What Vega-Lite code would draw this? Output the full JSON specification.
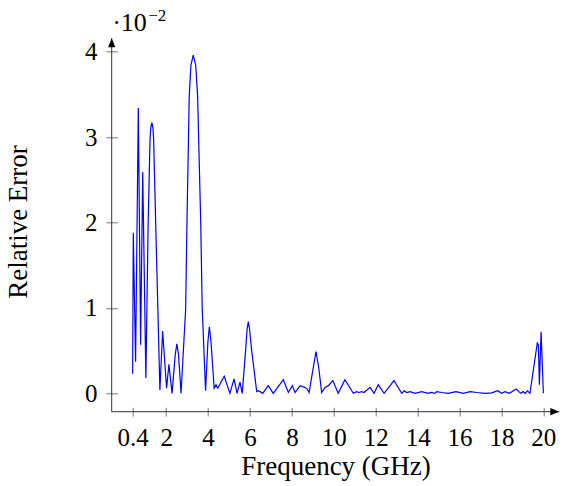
{
  "$schema": "https://vega.github.io/schema/vega-lite/v6.json",
  "autosize": {"type": "none"},
  "padding": {"left": 111.7, "top": 38.3, "right": 2.7, "bottom": 74.3},
  "width": 447.6,
  "height": 373.4,
  "background": "white",
  "config": {"view": {"stroke": null}},
  "resolve": {"axis": {"x": "independent"}},
  "layer": [
    {
      "data": {"values": [
        {"f": 0.40, "e": 0.23}, {"f": 0.43, "e": 1.88}, {"f": 0.54, "e": 0.37}, {"f": 0.67, "e": 3.34},
        {"f": 0.78, "e": 0.57}, {"f": 0.88, "e": 2.59}, {"f": 1.03, "e": 0.18}, {"f": 1.14, "e": 1.99},
        {"f": 1.23, "e": 2.98}, {"f": 1.27, "e": 3.12}, {"f": 1.32, "e": 3.17}, {"f": 1.37, "e": 3.1},
        {"f": 1.40, "e": 2.98}, {"f": 1.50, "e": 1.99}, {"f": 1.70, "e": 0.04}, {"f": 1.83, "e": 0.73},
        {"f": 2.02, "e": 0.06}, {"f": 2.13, "e": 0.34}, {"f": 2.28, "e": 0.0}, {"f": 2.43, "e": 0.45},
        {"f": 2.51, "e": 0.58}, {"f": 2.59, "e": 0.45}, {"f": 2.71, "e": 0.0}, {"f": 2.93, "e": 0.99},
        {"f": 2.99, "e": 1.98}, {"f": 3.10, "e": 3.48}, {"f": 3.18, "e": 3.84}, {"f": 3.29, "e": 3.96},
        {"f": 3.41, "e": 3.84}, {"f": 3.50, "e": 3.48}, {"f": 3.65, "e": 1.98}, {"f": 3.72, "e": 0.99},
        {"f": 3.88, "e": 0.03}, {"f": 3.99, "e": 0.6}, {"f": 4.06, "e": 0.78}, {"f": 4.14, "e": 0.6},
        {"f": 4.29, "e": 0.06}, {"f": 4.38, "e": 0.1}, {"f": 4.46, "e": 0.06}, {"f": 4.77, "e": 0.2},
        {"f": 5.04, "e": 0.0}, {"f": 5.24, "e": 0.17}, {"f": 5.38, "e": 0.0}, {"f": 5.52, "e": 0.13},
        {"f": 5.63, "e": 0.0}, {"f": 5.79, "e": 0.5}, {"f": 5.86, "e": 0.75}, {"f": 5.92, "e": 0.84},
        {"f": 5.98, "e": 0.75}, {"f": 6.08, "e": 0.5}, {"f": 6.32, "e": 0.02}, {"f": 6.41, "e": 0.03},
        {"f": 6.61, "e": 0.0}, {"f": 6.87, "e": 0.09}, {"f": 7.11, "e": 0.0}, {"f": 7.59, "e": 0.16},
        {"f": 7.83, "e": 0.01}, {"f": 8.02, "e": 0.09}, {"f": 8.15, "e": 0.01}, {"f": 8.39, "e": 0.09},
        {"f": 8.62, "e": 0.07}, {"f": 8.73, "e": 0.05}, {"f": 8.82, "e": 0.01}, {"f": 9.02, "e": 0.3},
        {"f": 9.15, "e": 0.49}, {"f": 9.28, "e": 0.3}, {"f": 9.42, "e": 0.01}, {"f": 9.58, "e": 0.07},
        {"f": 9.74, "e": 0.09}, {"f": 9.95, "e": 0.15}, {"f": 10.21, "e": 0.0}, {"f": 10.53, "e": 0.16},
        {"f": 10.93, "e": 0.0}, {"f": 11.09, "e": 0.02}, {"f": 11.2, "e": 0.01}, {"f": 11.33, "e": 0.02},
        {"f": 11.44, "e": 0.01}, {"f": 11.73, "e": 0.07}, {"f": 11.92, "e": 0.0}, {"f": 12.12, "e": 0.1},
        {"f": 12.40, "e": 0.0}, {"f": 12.87, "e": 0.15}, {"f": 13.24, "e": 0.0}, {"f": 13.36, "e": 0.03},
        {"f": 13.48, "e": 0.01}, {"f": 13.64, "e": 0.02}, {"f": 13.88, "e": 0.0}, {"f": 14.19, "e": 0.02},
        {"f": 14.51, "e": 0.0}, {"f": 14.64, "e": 0.01}, {"f": 14.83, "e": 0.0}, {"f": 14.91, "e": 0.02},
        {"f": 15.15, "e": 0.01}, {"f": 15.46, "e": 0.0}, {"f": 15.83, "e": 0.02}, {"f": 16.18, "e": 0.0},
        {"f": 16.50, "e": 0.02}, {"f": 16.82, "e": 0.01}, {"f": 17.22, "e": 0.0}, {"f": 17.54, "e": 0.005},
        {"f": 17.82, "e": 0.03}, {"f": 18.01, "e": 0.0}, {"f": 18.17, "e": 0.02}, {"f": 18.38, "e": 0.0},
        {"f": 18.70, "e": 0.05}, {"f": 18.92, "e": 0.0}, {"f": 19.04, "e": 0.02}, {"f": 19.13, "e": 0.0},
        {"f": 19.24, "e": 0.03}, {"f": 19.36, "e": 0.0}, {"f": 19.71, "e": 0.59}, {"f": 19.76, "e": 0.57},
        {"f": 19.81, "e": 0.1}, {"f": 19.89, "e": 0.72}, {"f": 20.0, "e": 0.0}
      ]},
      "mark": {"type": "line", "color": "#0000ff", "strokeWidth": 1.2, "clip": false},
      "encoding": {
        "x": {
          "field": "f", "type": "quantitative",
          "scale": {"domain": [-0.6, 20.76], "nice": false, "zero": false},
          "axis": {
            "orient": "bottom",
            "domain": false, "grid": false, "offset": -4.35, "tickSize": 8.7,
            "tickColor": "#777777", "tickWidth": 1,
            "values": [0.4, 2, 4, 6, 8, 10, 12, 14, 16, 18, 20], "format": ".2~f",
            "labelFont": "Liberation Serif", "labelFontSize": 25, "labelColor": "black",
            "labelPadding": 9.5, "labelFlush": false, "labelOverlap": false,
            "title": "Frequency (GHz)", "titleFont": "Liberation Serif", "titleFontSize": 27,
            "titleFontWeight": "normal", "titleColor": "black", "titleBaseline": "alphabetic",
            "titleAnchor": "middle", "titleX": 223.8, "titleY": 67.6
          }
        },
        "y": {
          "field": "e", "type": "quantitative",
          "scale": {"domain": [-0.215, 4.157], "nice": false, "zero": false},
          "axis": {
            "domain": false, "grid": false, "offset": -5.8, "tickSize": 11.6,
            "tickColor": "#777777", "tickWidth": 1,
            "values": [0, 1, 2, 3, 4], "format": "d",
            "labelFont": "Liberation Serif", "labelFontSize": 25, "labelColor": "black",
            "labelPadding": 9, "labelFlush": false,
            "title": "Relative Error", "titleFont": "Liberation Serif", "titleFontSize": 27,
            "titleFontWeight": "normal", "titleColor": "black", "titleBaseline": "alphabetic",
            "titleAngle": -90, "titleAlign": "center", "titleX": -90.8, "titleY": 183.2
          }
        }
      }
    },
    {
      "data": {"values": [{}]},
      "mark": {"type": "rule", "color": "#333333", "strokeWidth": 1},
      "encoding": {
        "x": {
          "datum": -0.6, "type": "quantitative",
          "axis": {
            "orient": "top", "domain": false, "ticks": false, "labels": false, "grid": false,
            "title": "−2", "titleFont": "Liberation Serif", "titleFontSize": 17,
            "titleFontWeight": "normal", "titleColor": "black", "titleBaseline": "alphabetic",
            "titleAlign": "left", "titleAnchor": "start", "titleX": 36, "titleY": -18
          }
        },
        "x2": {"datum": 20.76},
        "y": {"datum": -0.215, "type": "quantitative"}
      }
    },
    {
      "data": {"values": [{}]},
      "mark": {"type": "rule", "color": "#333333", "strokeWidth": 1},
      "encoding": {
        "x": {
          "datum": -0.6, "type": "quantitative",
          "axis": {
            "orient": "top", "domain": false, "ticks": false, "labels": false, "grid": false,
            "title": "·10", "titleFont": "Liberation Serif", "titleFontSize": 26,
            "titleFontWeight": "normal", "titleColor": "black", "titleBaseline": "alphabetic",
            "titleAlign": "left", "titleAnchor": "start", "titleX": 0, "titleY": -7.6
          }
        },
        "y": {"datum": -0.215, "type": "quantitative"},
        "y2": {"datum": 4.157}
      }
    },
    {
      "data": {"values": [{}]},
      "mark": {"type": "point", "shape": "M0,0L-2,-0.8L-2,0.8Z", "filled": true, "color": "black", "opacity": 1, "size": 81},
      "encoding": {
        "x": {"datum": 20.76, "type": "quantitative", "axis": null},
        "y": {"datum": -0.215, "type": "quantitative"}
      }
    },
    {
      "data": {"values": [{}]},
      "mark": {"type": "point", "shape": "M0,0L-0.8,2L0.8,2Z", "filled": true, "color": "black", "opacity": 1, "size": 81},
      "encoding": {
        "x": {"datum": -0.6, "type": "quantitative", "axis": null},
        "y": {"datum": 4.157, "type": "quantitative"}
      }
    }
  ]
}
